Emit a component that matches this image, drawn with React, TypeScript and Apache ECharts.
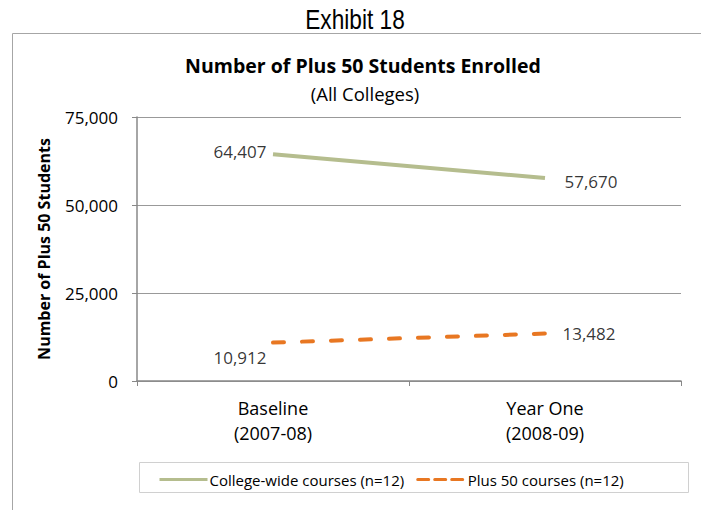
import React, { useEffect, useRef } from "react";
import * as echarts from "echarts";

const categories = ["Baseline\n(2007-08)", "Year One\n(2008-09)"];
const collegeWide = [64407, 57670];
const plus50 = [10912, 13482];
const seriesNames = ["College-wide courses (n=12)", "Plus 50 courses (n=12)"];
const yTicks = { min: 0, max: 75000, interval: 25000 };

const FONT = "'Open Sans', 'Noto Sans', sans-serif";
const GREEN = "#b5bd8e";
const ORANGE = "#e87722";

export default function App() {
  const ref = useRef<HTMLDivElement>(null);
  useEffect(() => {
    if (!ref.current) return;
    const chart = echarts.init(ref.current, null, { renderer: "svg" });
    const fmt = (v: number) => v.toLocaleString("en-US");
    const labelBase = { show: true, fontFamily: FONT, fontSize: 17, color: "#000", formatter: (p: any) => fmt(p.value) };
    chart.setOption({
      animation: false,
      backgroundColor: "#ffffff",
      textStyle: { fontFamily: FONT },
      title: [
        {
          text: "Number of Plus 50 Students Enrolled",
          left: 358,
          top: 50,
          textAlign: "center",
          textStyle: { fontFamily: FONT, fontSize: 19.5, fontWeight: "bold", color: "#000" },
        },
        {
          text: "(All Colleges)",
          left: 360,
          top: 79,
          textAlign: "center",
          textStyle: { fontFamily: FONT, fontSize: 18.5, fontWeight: "normal", color: "#000" },
        },
      ],
      graphic: [
        {
          type: "text",
          x: 355,
          y: 19,
          scaleX: 0.84,
          silent: true,
          style: {
            text: "Exhibit 18",
            x: 0,
            y: 0,
            align: "center",
            verticalAlign: "middle",
            fontFamily: "'Liberation Sans', Arial, sans-serif",
            fontSize: 27,
            fill: "#000",
          },
        },
        {
          type: "polyline",
          shape: { points: [[12.5, 510], [12.5, 33.5], [701, 33.5]] },
          style: { stroke: "#a6a6a6", lineWidth: 1, fill: "none" },
          silent: true,
        },
        {
          type: "rect",
          shape: { x: 139.5, y: 462.5, width: 549, height: 30 },
          style: { stroke: "#d0d0d0", lineWidth: 1, fill: "none" },
          silent: true,
        },
      ],
      grid: { left: 137, right: 20, top: 117, bottom: 129, containLabel: false },
      legend: {
        left: 153,
        top: 467,
        itemWidth: 48,
        itemHeight: 12,
        itemGap: 12,
        itemStyle: { opacity: 0 },
        textStyle: { fontFamily: FONT, fontSize: 15, color: "#000", padding: [0, 0, 0, -3] },
        data: [
          { name: seriesNames[0], itemStyle: { opacity: 0 }, lineStyle: { color: GREEN, width: 3 } },
          { name: seriesNames[1], itemStyle: { opacity: 0 }, lineStyle: { color: ORANGE, width: 3, type: [11, 6] } },
        ],
      },
      xAxis: {
        type: "category",
        data: categories,
        boundaryGap: true,
        axisLine: { lineStyle: { color: "#888", width: 1.5 } },
        axisTick: { show: true, alignWithLabel: false, length: 5, lineStyle: { color: "#888" } },
        axisLabel: { fontFamily: FONT, fontSize: 18, color: "#000", lineHeight: 25, margin: 14 },
      },
      yAxis: {
        type: "value",
        min: yTicks.min,
        max: yTicks.max,
        interval: yTicks.interval,
        name: "Number of Plus 50 Students",
        nameLocation: "middle",
        nameGap: 85,
        nameTextStyle: { fontFamily: FONT, fontSize: 16, fontWeight: "bold", color: "#000" },
        axisLine: { show: true, lineStyle: { color: "#888", width: 1.5 } },
        axisTick: { show: true, length: 5, inside: false, lineStyle: { color: "#888" } },
        axisLabel: { fontFamily: FONT, fontSize: 17, color: "#000", margin: 19, formatter: fmt },
        splitLine: { lineStyle: { color: "#999", width: 1.2 } },
      },
      series: [
        {
          name: seriesNames[0],
          type: "line",
          symbol: "none",
          lineStyle: { color: GREEN, width: 4 },
          itemStyle: { color: GREEN },
          data: collegeWide,
        },
        {
          name: seriesNames[1],
          type: "line",
          symbol: "none",
          lineStyle: { color: ORANGE, width: 4, type: [11, 18], cap: "round" },
          itemStyle: { color: ORANGE },
          data: plus50,
        },
        {
          name: "labels-college",
          type: "scatter",
          symbolSize: 1,
          itemStyle: { color: "transparent" },
          label: labelBase,
          data: [
            { value: collegeWide[0], label: { position: "left", distance: 6, offset: [0, -3] } },
            { value: collegeWide[1], label: { position: "right", distance: 19, offset: [0, 3] } },
          ],
        },
        {
          name: "labels-plus50",
          type: "scatter",
          symbolSize: 1,
          itemStyle: { color: "transparent" },
          label: labelBase,
          data: [
            { value: plus50[0], label: { position: "left", distance: 6, offset: [0, 15] } },
            { value: plus50[1], label: { position: "right", distance: 17, offset: [0, 0] } },
          ],
        },
      ],
    });
    return () => chart.dispose();
  }, []);
  return <div ref={ref} style={{ position: "absolute", left: 0, top: 0, width: 701, height: 510 }} />;
}
